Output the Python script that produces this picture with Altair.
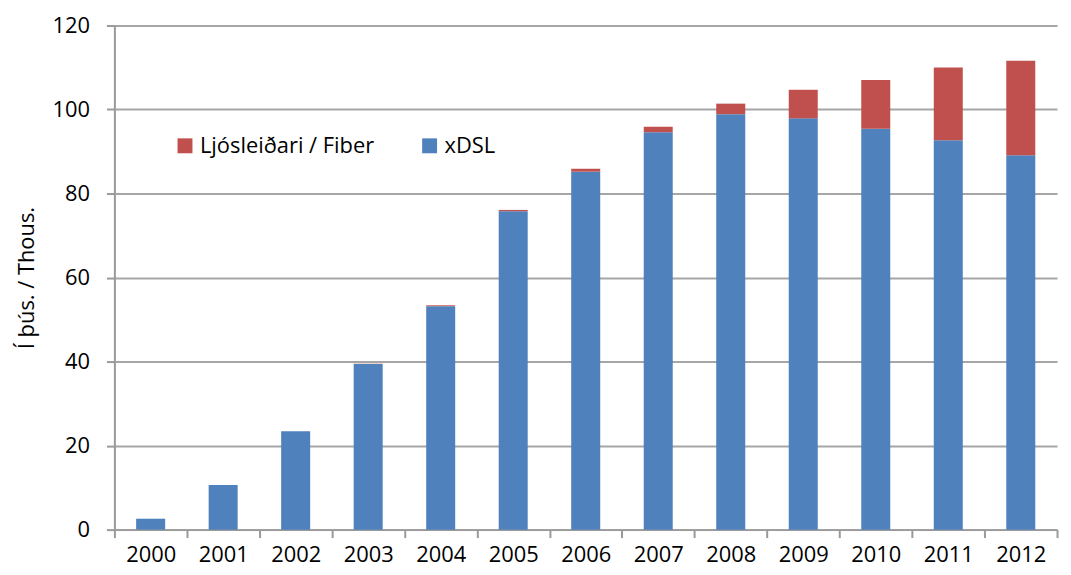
import altair as alt
import pandas as pd

years = [str(y) for y in range(2000, 2013)]
xdsl = [2.6, 10.6, 23.4, 39.4, 53.2, 75.8, 85.2, 94.6, 98.9, 97.9, 95.4, 92.7, 89.1]
fiber = [0.0, 0.0, 0.0, 0.1, 0.2, 0.3, 0.7, 1.3, 2.5, 6.8, 11.6, 17.3, 22.5]

series_names = ["Ljósleiðari / Fiber", "xDSL"]
series_colors = ["#C0504D", "#4F81BD"]

rows = []
for y, d, f in zip(years, xdsl, fiber):
    rows.append({"year": y, "series": "xDSL", "value": d, "ord": 0})
    rows.append({"year": y, "series": "Ljósleiðari / Fiber", "value": f, "ord": 1})
df = pd.DataFrame(rows)

FONT = "Open Sans"
FS = 22

chart = alt.Chart(df).mark_bar(width=alt.RelativeBandSize(0.4)).encode(
    x=alt.X("year:N", title=None, sort=years,
            scale=alt.Scale(paddingInner=0, paddingOuter=0),
            axis=alt.Axis(labelAngle=0, tickBand="extent", grid=False,
                          domainColor="#9a9a9a", domainWidth=2,
                          tickColor="#9a9a9a", tickWidth=2, tickSize=8,
                          labelPadding=7, labelFontSize=FS, labelFont=FONT,
                          labelColor="#000000")),
    y=alt.Y("value:Q", title="Í þús. / Thous.",
            scale=alt.Scale(domain=[0, 120], nice=False),
            axis=alt.Axis(values=[0, 20, 40, 60, 80, 100, 120],
                          grid=True, gridColor="#a6a6a6", gridWidth=2,
                          domainColor="#9a9a9a", domainWidth=2,
                          tickColor="#9a9a9a", tickWidth=2, tickSize=8,
                          labelPadding=17, labelFontSize=FS, labelFont=FONT,
                          labelColor="#000000",
                          titleFontSize=FS, titleFont=FONT, titleFontWeight="normal",
                          titleColor="#000000", titlePadding=14)),
    color=alt.Color("series:N", scale=alt.Scale(domain=series_names, range=series_colors),
                    legend=alt.Legend(orient="none", legendX=60, legendY=110,
                                      direction="horizontal", title=None,
                                      symbolType="square", symbolSize=225,
                                      symbolStrokeWidth=0, labelFontSize=FS,
                                      labelFont=FONT, labelColor="#000000",
                                      labelLimit=400,
                                      labelOffset=4, columnPadding=44)),
    order=alt.Order("ord:Q", sort="ascending"),
).properties(
    width=948,
    height=507,
    padding={"left": 7, "top": 5, "right": 5, "bottom": 2},
).configure_view(stroke=None)

chart.save("out.html", embed_options={"renderer": "svg", "actions": False})
